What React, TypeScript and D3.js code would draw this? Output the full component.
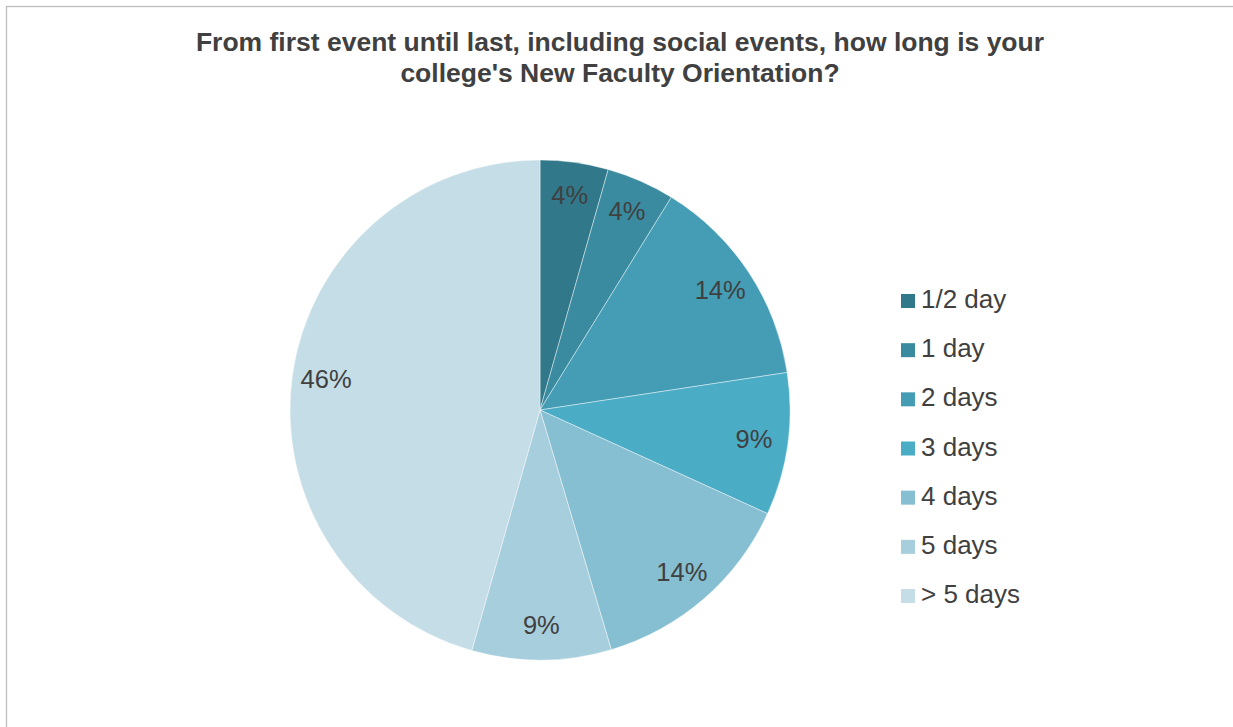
import React from "react";
import * as d3 from "d3";

const categories = ["1/2 day", "1 day", "2 days", "3 days", "4 days", "5 days", "> 5 days"];
const values = [4.4, 4.4, 13.8, 9.2, 13.6, 9.0, 45.6];
const colors = ["#31788A", "#3A8BA0", "#449DB5", "#4BACC6", "#86BFD1", "#A7CEDC", "#C4DDE6"];
const titleLines = [
  "From first event until last, including social events, how long is your",
  "college's New Faculty Orientation?",
];

const W = 1233;
const H = 727;
const cx = 540;
const cy = 410;
const R = 250;
const labelR = 216;

export default function App() {
  const pie = d3.pie<number>().sort(null).value((d) => d)(values);
  const arc = d3.arc<d3.PieArcDatum<number>>().innerRadius(0).outerRadius(R);
  const labelArc = d3.arc<d3.PieArcDatum<number>>().innerRadius(labelR).outerRadius(labelR);
  const legendY = d3.scalePoint<string>().domain(categories).range([299, 594]);
  const font = "'Liberation Sans', Arial, sans-serif";
  return (
    <svg
      width={W}
      height={H}
      style={{ position: "absolute", left: 0, top: 0, background: "#fff" }}
      fontFamily={font}
    >
      <rect x={6.5} y={6.5} width={W + 20} height={H + 20} fill="#fff" stroke="#BDBDBD" strokeWidth={1.3} />
      {titleLines.map((t, i) => (
        <text
          key={i}
          x={620}
          y={51 + i * 30.5}
          textAnchor="middle"
          fontSize={26.5}
          fontWeight="bold"
          fill="#404040"
        >
          {t}
        </text>
      ))}
      <g transform={`translate(${cx},${cy})`}>
        {pie.map((p, i) => (
          <path key={i} d={arc(p) || ""} fill={colors[i]} stroke="#fff" strokeWidth={0.6} strokeOpacity={0.7} />
        ))}
        {pie.map((p, i) => {
          const [x, y] = labelArc.centroid(p);
          return (
            <text key={i} x={x} y={y + 8} textAnchor="middle" fontSize={25.5} fill="#404040">
              {Math.round(values[i])}%
            </text>
          );
        })}
      </g>
      {categories.map((c, i) => {
        const y = legendY(c) || 0;
        return (
          <g key={c}>
            <rect x={901} y={y - 5} width={14} height={14} fill={colors[i]} />
            <text x={921} y={y + 9} fontSize={26} fill="#404040">
              {c}
            </text>
          </g>
        );
      })}
    </svg>
  );
}
